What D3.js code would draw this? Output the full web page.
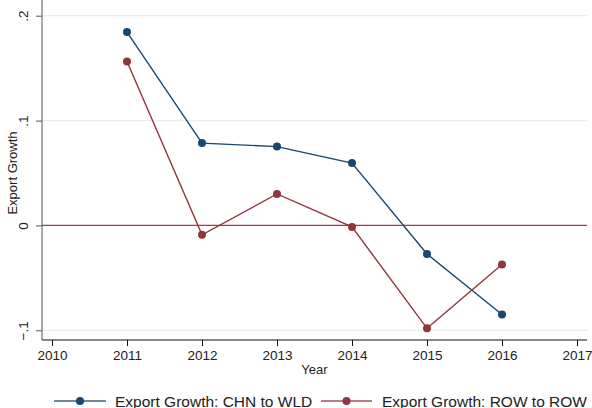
<!DOCTYPE html>
<html>
<head>
<meta charset="utf-8">
<script src="https://cdn.jsdelivr.net/npm/d3@7"></script>
<style>
  html, body { margin: 0; padding: 0; background: #fff; }
  svg { display: block; font-family: "Liberation Sans", Arial, sans-serif; }
</style>
</head>
<body>
<svg id="chart" width="592" height="408"></svg>
<script>
// Export growth by year, two series
const years = [2011, 2012, 2013, 2014, 2015, 2016];
const chnToWld = [0.1844, 0.0785, 0.0752, 0.0595, -0.0272, -0.0849];
const rowToRow = [0.1563, -0.0090, 0.0300, -0.0014, -0.0981, -0.0373];
const xTicks = [2010, 2011, 2012, 2013, 2014, 2015, 2016, 2017];
const yTicks = [-0.1, 0, 0.1, 0.2];
const yTickLabels = ["\u2212.1", "0", ".1", ".2"];
const seriesNames = ["Export Growth: CHN to WLD", "Export Growth: ROW to ROW"];
const seriesColors = ["#1a476f", "#90353b"];

const svg = d3.select("#chart");
const plotLeft = 42, plotRight = 587, plotBottom = 340;

const x = d3.scaleLinear().domain([2010, 2017]).range([52, 577]);
const y = d3.scaleLinear().domain([-0.1, 0.2]).range([330.3, 15.7]);

// gridlines
svg.append("g").selectAll("line")
  .data(yTicks.filter(d => d !== 0))
  .join("line")
  .attr("x1", plotLeft).attr("x2", plotRight)
  .attr("y1", d => y(d)).attr("y2", d => y(d))
  .attr("stroke", "#e6eef0").attr("stroke-width", 1.2);

// reference line at zero
svg.append("line")
  .attr("x1", plotLeft).attr("x2", plotRight)
  .attr("y1", y(0)).attr("y2", y(0))
  .attr("stroke", "#b8334a").attr("stroke-width", 1.2);

// y axis
const yAxis = svg.append("g").attr("transform", `translate(${plotLeft},0)`)
  .call(d3.axisLeft(y).tickValues(yTicks)
    .tickFormat((d, i) => yTickLabels[i]).tickSize(6).tickPadding(0));
yAxis.select(".domain").attr("d", `M0,0V${plotBottom}`).attr("stroke", "#555");
yAxis.selectAll(".tick line").attr("stroke", "#555");
yAxis.selectAll(".tick text")
  .attr("font-size", 13.5).attr("fill", "#222")
  .attr("text-anchor", "middle")
  .attr("dy", 0)
  .attr("transform", "translate(-14,0) rotate(-90)")
  .attr("x", 0).attr("y", 0);

// x axis
const xAxis = svg.append("g").attr("transform", `translate(0,${plotBottom})`)
  .call(d3.axisBottom(x).tickValues(xTicks).tickFormat(d3.format("d")).tickSize(6).tickPadding(4));
xAxis.select(".domain").attr("d", `M${plotLeft},0H${plotRight}`).attr("stroke", "#111");
xAxis.selectAll(".tick line").attr("stroke", "#111");
xAxis.selectAll(".tick text").attr("font-size", 13.5).attr("fill", "#222");

// axis titles
svg.append("text")
  .attr("x", (plotLeft + plotRight) / 2).attr("y", 374)
  .attr("text-anchor", "middle").attr("font-size", 13).attr("fill", "#222")
  .text("Year");
svg.append("text")
  .attr("transform", "translate(17,173) rotate(-90)")
  .attr("text-anchor", "middle").attr("font-size", 13).attr("fill", "#222")
  .text("Export Growth");

// series
const line = d3.line().x(d => x(d[0])).y(d => y(d[1]));
[chnToWld, rowToRow].forEach((vals, i) => {
  const pts = years.map((yr, j) => [yr, vals[j]]);
  const g = svg.append("g");
  g.append("path").datum(pts)
    .attr("d", line).attr("fill", "none")
    .attr("stroke", seriesColors[i]).attr("stroke-width", 1.4);
  g.selectAll("circle").data(pts).join("circle")
    .attr("cx", d => x(d[0])).attr("cy", d => y(d[1])).attr("r", 4)
    .attr("fill", seriesColors[i]);
});

// legend
const legendItems = [
  { x0: 54, x1: 106, tx: 115 },
  { x0: 321, x1: 372, tx: 382 }
];
const ly = 401;
legendItems.forEach((it, i) => {
  const g = svg.append("g");
  g.append("line").attr("x1", it.x0).attr("x2", it.x1).attr("y1", ly).attr("y2", ly)
    .attr("stroke", seriesColors[i]).attr("stroke-width", 1.6).attr("opacity", 0.85);
  g.append("circle").attr("cx", (it.x0 + it.x1) / 2).attr("cy", ly).attr("r", 4)
    .attr("fill", seriesColors[i]);
  g.append("text").attr("x", it.tx).attr("y", 406.5)
    .attr("font-size", 15.5).attr("fill", "#222").text(seriesNames[i]);
});
</script>
</body>
</html>
